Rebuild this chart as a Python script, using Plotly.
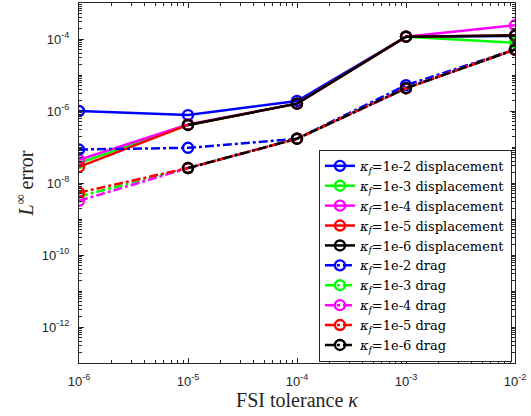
import plotly.graph_objects as go

tol = [1e-6, 1e-5, 1e-4, 1e-3, 1e-2]
kappa_f_labels = ["1e-2", "1e-3", "1e-4", "1e-5", "1e-6"]
colors = ["#0000ff", "#00ff00", "#ff00ff", "#ff0000", "#000000"]

disp = {
    "1e-2": [1.0e-6, 7.7e-7, 1.9e-6, 1.16e-4, 1.22e-4],
    "1e-3": [3.6e-8, 4.1e-7, 1.6e-6, 1.16e-4, 7.9e-5],
    "1e-4": [4.4e-8, 4.2e-7, 1.6e-6, 1.16e-4, 2.4e-4],
    "1e-5": [2.8e-8, 4.1e-7, 1.6e-6, 1.16e-4, 1.25e-4],
    "1e-6": [None, 4.1e-7, 1.6e-6, 1.16e-4, 1.25e-4],
}
drag = {
    "1e-2": [8.5e-8, 9.5e-8, 1.7e-7, 5.2e-6, 5.1e-5],
    "1e-3": [4.2e-9, 2.6e-8, 1.7e-7, 4.3e-6, 5.1e-5],
    "1e-4": [3.2e-9, 2.6e-8, 1.7e-7, 4.3e-6, 5.1e-5],
    "1e-5": [5.4e-9, 2.6e-8, 1.7e-7, 4.3e-6, 5.1e-5],
    "1e-6": [None, 2.6e-8, 1.7e-7, 4.3e-6, 5.1e-5],
}

x_tick_exp = [-6, -5, -4, -3, -2]
y_tick_exp = [-12, -10, -8, -6, -4]

serif = "DejaVu Serif"
sans = "Liberation Sans"
axcol = "#262626"

fig = go.Figure()
for name, kind, dash in [("displacement", disp, "solid"), ("drag", drag, "dashdot")]:
    for lab, col in zip(kappa_f_labels, colors):
        fig.add_trace(go.Scatter(
            x=tol, y=kind[lab], mode="lines+markers",
            line=dict(color=col, width=2.5, dash=dash),
            marker=dict(symbol="circle-open", size=10, color=col, line=dict(width=2.4, color=col)),
            name=f"<i>κ</i><sub><i>f</i></sub>={lab} {name}",
            connectgaps=False,
        ))

def minor_vals(lo, hi):
    return [k * 10.0 ** e for e in range(lo, hi) for k in range(2, 10)]

fig.update_xaxes(
    type="log", range=[-6, -2],
    tickvals=[10.0 ** e for e in x_tick_exp],
    ticktext=[f"10<sup>{e}</sup>" for e in x_tick_exp],
    ticks="inside", ticklen=5, tickwidth=1, tickcolor=axcol,
    minor=dict(tickvals=minor_vals(-6, -2), ticks="inside", ticklen=3, tickcolor=axcol, showgrid=False),
    showline=True, linecolor=axcol, linewidth=1, mirror="ticks",
    showgrid=False, zeroline=False, ticklabelstandoff=6,
    tickfont=dict(family=sans, size=13, color=axcol),
    title=dict(text="FSI tolerance <i>κ</i>", font=dict(family="Liberation Serif", size=20, color=axcol), standoff=2),
)
fig.update_yaxes(
    type="log", range=[-13, -3],
    tickvals=[10.0 ** e for e in y_tick_exp],
    ticktext=[f"10<sup>{e}</sup>" for e in y_tick_exp],
    ticks="inside", ticklen=5, tickwidth=1, tickcolor=axcol,
    minor=dict(tickvals=[10.0 ** e for e in range(-13, -2)] + minor_vals(-13, -3),
               ticks="inside", ticklen=3, tickcolor=axcol, showgrid=False),
    showline=True, linecolor=axcol, linewidth=1, mirror="ticks",
    showgrid=False, zeroline=False, ticklabelstandoff=6,
    tickfont=dict(family=sans, size=13, color=axcol),
    title=dict(text="<i>L</i><sup>∞</sup> error", font=dict(family="Liberation Serif", size=20, color=axcol), standoff=2),
)
fig.update_layout(
    width=531, height=416,
    margin=dict(l=79, r=16, t=3, b=53),
    paper_bgcolor="white", plot_bgcolor="white",
    showlegend=True,
    legend=dict(
        x=0.993, y=0.592, xanchor="right", yanchor="top",
        bgcolor="white", bordercolor=axcol, borderwidth=1,
        font=dict(family=serif, size=13, color="black"),
        tracegroupgap=0, itemwidth=30,
    ),
)
fig.write_html("out.html")
